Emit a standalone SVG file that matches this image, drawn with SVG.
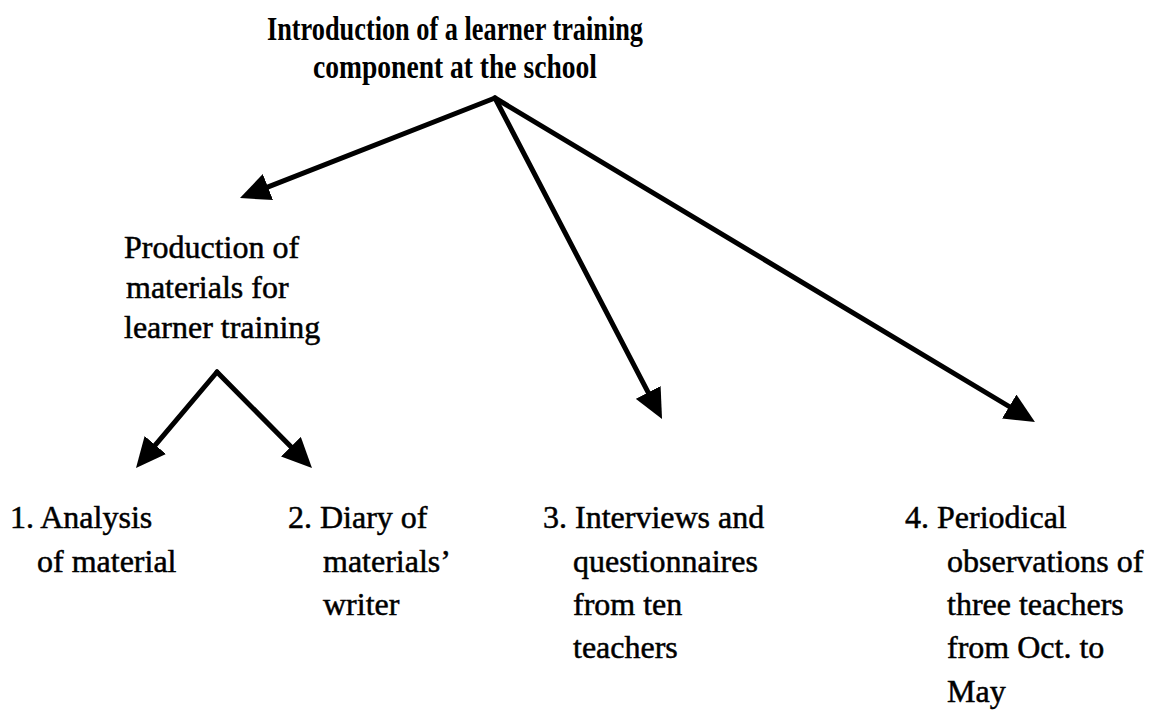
<svg xmlns="http://www.w3.org/2000/svg" width="1166" height="710" viewBox="0 0 1166 710">
  <style>
    text { font-family: "Liberation Serif", "Times New Roman", serif; fill: #000; }
    .title { font-size: 34px; font-weight: bold; }
    .lbl { font-size: 32px; stroke: #000; stroke-width: 0.5; }
    .conn line { stroke: #000; stroke-width: 5; stroke-linecap: round; fill: none; }
  </style>
  <defs>
    <marker id="ah" viewBox="0 0 30 28" refX="10" refY="14" markerWidth="6" markerHeight="5.6" orient="auto" markerUnits="strokeWidth">
      <path d="M0,0 L30,14 L0,28 z" fill="#000"/>
    </marker>
  </defs>
  <rect width="1166" height="710" fill="#fff"/>

  <g id="node-root">
    <text class="title" x="267" y="40" textLength="376" lengthAdjust="spacingAndGlyphs">Introduction of a learner training</text>
    <text class="title" x="313" y="78" textLength="284" lengthAdjust="spacingAndGlyphs">component at the school</text>
  </g>

  <g id="node-production">
    <text class="lbl" x="124" y="258">Production of</text>
    <text class="lbl" x="126" y="298">materials for</text>
    <text class="lbl" x="124" y="338">learner training</text>
  </g>

  <g id="node-1">
    <text class="lbl" x="10" y="528">1. Analysis</text>
    <text class="lbl" x="37" y="572">of material</text>
  </g>
  <g id="node-2">
    <text class="lbl" x="288" y="528">2. Diary of</text>
    <text class="lbl" x="323" y="572">materials’</text>
    <text class="lbl" x="323" y="615">writer</text>
  </g>
  <g id="node-3">
    <text class="lbl" x="543" y="528">3. Interviews and</text>
    <text class="lbl" x="573" y="572">questionnaires</text>
    <text class="lbl" x="573" y="615">from ten</text>
    <text class="lbl" x="573" y="658">teachers</text>
  </g>
  <g id="node-4">
    <text class="lbl" x="905" y="528">4. Periodical</text>
    <text class="lbl" x="947" y="572">observations of</text>
    <text class="lbl" x="947" y="615">three teachers</text>
    <text class="lbl" x="947" y="658">from Oct. to</text>
    <text class="lbl" x="947" y="702">May</text>
  </g>

  <g id="connectors" class="conn">
    <line x1="495" y1="98" x2="258.6" y2="190.7" marker-end="url(#ah)"/>
    <line x1="495" y1="98" x2="652.8" y2="401.3" marker-end="url(#ah)"/>
    <line x1="495" y1="98" x2="1017.8" y2="411.7" marker-end="url(#ah)"/>
    <line x1="217" y1="372" x2="148.9" y2="452.7" marker-end="url(#ah)"/>
    <line x1="217" y1="372" x2="297.9" y2="453.8" marker-end="url(#ah)"/>
  </g>
</svg>
